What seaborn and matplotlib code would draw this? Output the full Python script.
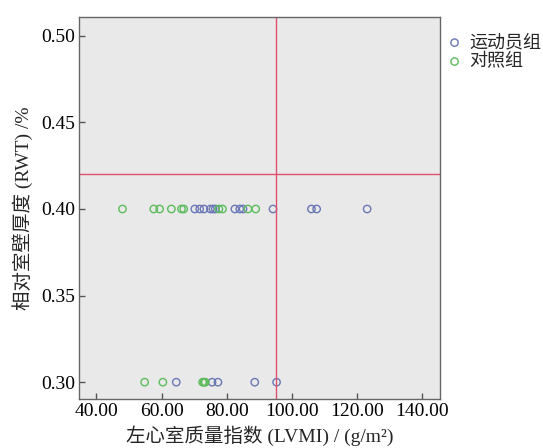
import pandas as pd
import numpy as np
import seaborn as sns
import matplotlib.pyplot as plt

# data (LVMI vs RWT)
athlete_lvmi = [70.2, 71.7, 73.0, 75.0, 75.8, 76.5, 82.5, 84.0, 85.0, 94.2, 106.0, 107.6, 123.1,
                64.5, 75.5, 77.3, 88.6, 95.3]
athlete_rwt = [0.40] * 13 + [0.30] * 5
control_lvmi = [48.0, 57.6, 59.4, 63.0, 66.1, 66.8, 77.6, 78.7, 86.5, 88.9,
                54.8, 60.4, 72.6, 73.0, 73.4]
control_rwt = [0.40] * 10 + [0.30] * 5
group_names = ["运动员组", "对照组"]
ref_lvmi = 95.0
ref_rwt = 0.42

x_ticks = [40, 60, 80, 100, 120, 140]
y_ticks = [0.30, 0.35, 0.40, 0.45, 0.50]

df = pd.DataFrame({
    "LVMI": athlete_lvmi + control_lvmi,
    "RWT": athlete_rwt + control_rwt,
    "group": [group_names[0]] * len(athlete_lvmi) + [group_names[1]] * len(control_lvmi),
})

sns.set_theme(style="ticks")
plt.rcParams['font.family'] = ['Liberation Serif', 'Noto Sans CJK SC', 'DejaVu Sans']

fig = plt.figure(figsize=(5.43, 4.48), dpi=100)
ax = fig.add_axes([0.1455, 0.109, 0.665, 0.854])
ax.set_facecolor("#e9e9e9")

colors = {group_names[0]: "#6a77b6", group_names[1]: "#5cbc5c"}
for g in group_names:
    sub = df[df["group"] == g]
    sns.scatterplot(x="LVMI", y="RWT", data=sub, ax=ax, s=28, facecolor="none",
                    edgecolor=colors[g], linewidth=1.0, label=g)

ax.axvline(ref_lvmi, color="#e0506a", linewidth=1.0, zorder=1)
ax.axhline(ref_rwt, color="#e0506a", linewidth=1.0, zorder=1)

ax.set_xlim(34.65, 145.5)
ax.set_ylim(0.2902, 0.5111)
ax.set_xticks(x_ticks)
ax.set_xticklabels([f"{v:.2f}" for v in x_ticks])
ax.set_yticks(y_ticks)
ax.set_yticklabels([f"{v:.2f}" for v in y_ticks])
ax.tick_params(direction="in", length=4, width=1, colors="#555555", labelcolor="black",
               labelsize=14, pad=3)
for sp in ax.spines.values():
    sp.set_visible(True)
    sp.set_color("#666666")
    sp.set_linewidth(1.0)

ax.set_xlabel("左心室质量指数 (LVMI) / (g/m²)", fontsize=14, labelpad=4)
ax.set_ylabel("相对室壁厚度 (RWT) /%", fontsize=14, labelpad=6)

ax.legend(loc="upper left", bbox_to_anchor=(1.0, 0.975), frameon=False,
          handlelength=0.8, handletextpad=0.4, labelspacing=0.05, borderaxespad=0.0,
          prop={"family": ["Noto Sans CJK SC"], "size": 13})

plt.savefig("out.png", dpi=100)
